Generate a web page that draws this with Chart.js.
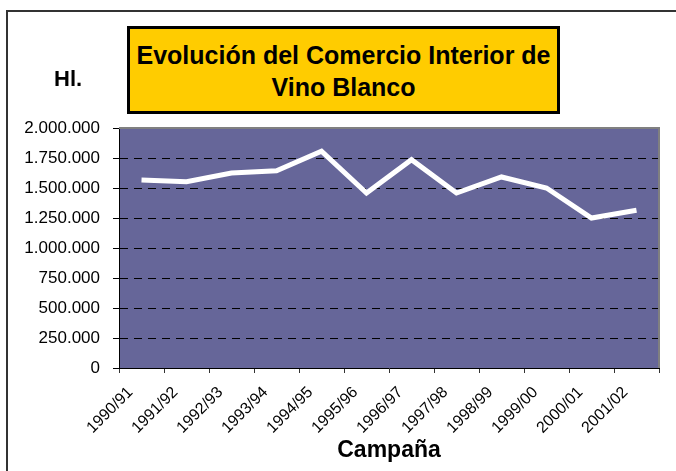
<!DOCTYPE html>
<html>
<head>
<meta charset="utf-8">
<script src="https://cdn.jsdelivr.net/npm/chart.js@4/dist/chart.umd.min.js"></script>
<style>
  body { margin: 0; background: #fff; }
  #wrap { position: relative; width: 676px; height: 471px; overflow: hidden; font-family: "Liberation Sans", Arial, sans-serif; }
  #frame { position: absolute; left: 6px; top: 10px; width: 700px; height: 500px; border-left: 2px solid #333; border-top: 2px solid #333; }
  #titleBox { position: absolute; left: 127px; top: 26px; width: 427px; border: 3px solid #000; background: #FFCC00;
    font-weight: bold; font-size: 25px; line-height: 32px; text-align: center; padding-top: 10px; height: 72px; }
  #unit { position: absolute; left: 54px; top: 66px; font-weight: bold; font-size: 22px; }
  canvas { position: absolute; left: 0; top: 0; }
</style>
</head>
<body>
<div id="wrap">
  <div id="frame"></div>
  <canvas id="myChart" width="676" height="471"></canvas>
  <div id="titleBox">Evolución del Comercio Interior de<br>Vino Blanco</div>
  <div id="unit">Hl.</div>
</div>
<script>
var campaigns = ['1990/91', '1991/92', '1992/93', '1993/94', '1994/95', '1995/96',
                 '1996/97', '1997/98', '1998/99', '1999/00', '2000/01', '2001/02'];
var hectolitres = [1567000, 1553000, 1625000, 1644000, 1806000, 1458000,
                   1736000, 1458000, 1592000, 1500000, 1250000, 1314000];
var yTicks = [0, 250000, 500000, 750000, 1000000, 1250000, 1500000, 1750000, 2000000];

function fmt(v) {
    return String(v).replace(/\B(?=(\d{3})+(?!\d))/g, '.');
}

var plotBack = {
    id: 'plotBack',
    beforeDraw: function (chart) {
        var a = chart.chartArea, c = chart.ctx;
        c.save();
        c.fillStyle = '#666699';
        c.fillRect(a.left, a.top, a.right - a.left, a.bottom - a.top);
        c.restore();
    },
    beforeDatasetsDraw: function (chart) {
        var a = chart.chartArea, c = chart.ctx;
        c.save();
        c.strokeStyle = '#808080';
        c.lineWidth = 2;
        c.beginPath();
        c.moveTo(a.left, a.top);
        c.lineTo(a.right, a.top);
        c.lineTo(a.right, a.bottom);
        c.stroke();
        c.restore();
    }
};

var ctx = document.getElementById("myChart");

const myChart = new Chart(ctx, {
    type: "line",
    data: {
        labels: campaigns,
        datasets: [{
            label: 'Hl.',
            data: hectolitres,
            borderColor: '#FFFFFF',
            borderWidth: 5,
            pointRadius: 0,
            tension: 0,
            fill: false
        }]
    },
    options: {
        responsive: false,
        animation: false,
        devicePixelRatio: 1,
        layout: { padding: { top: 128, right: 17, left: 0, bottom: 0 } },
        plugins: { legend: { display: false }, tooltip: { enabled: false } },
        scales: {
            x: {
                offset: true,
                afterFit: function (s) { s.height = 103; },
                grid: { offset: true, drawOnChartArea: false, tickLength: 5, tickColor: '#333' },
                border: { display: true, color: '#000', width: 1 },
                ticks: {
                    minRotation: 45, maxRotation: 45, autoSkip: false,
                    color: '#000', padding: 10, labelOffset: -11,
                    font: { family: '"Liberation Sans", Arial', size: 16 }
                },
                title: {
                    display: true, text: 'Campaña', color: '#000',
                    font: { family: '"Liberation Sans", Arial', size: 23, weight: 'bold' },
                    padding: { top: 0, bottom: 7 }
                }
            },
            y: {
                min: 0,
                max: 2000000,
                afterFit: function (s) { s.width = 119; },
                afterBuildTicks: function (s) { s.ticks = yTicks.map(function (v) { return { value: v }; }); },
                grid: {
                    color: function (c) {
                        var v = c.tick ? c.tick.value : 0;
                        return (v === 0 || v === 2000000) ? 'rgba(0,0,0,0)' : '#000';
                    },
                    lineWidth: 1,
                    tickLength: 6,
                    tickColor: '#000',
                    tickBorderDash: []
                },
                border: { display: true, color: '#000', width: 1, dash: [8, 6] },
                ticks: {
                    color: '#000', padding: 13,
                    font: { family: '"Liberation Sans", Arial', size: 17 },
                    callback: function (v) { return fmt(v); }
                }
            }
        }
    },
    plugins: [plotBack]
});
</script>
</body>
</html>
